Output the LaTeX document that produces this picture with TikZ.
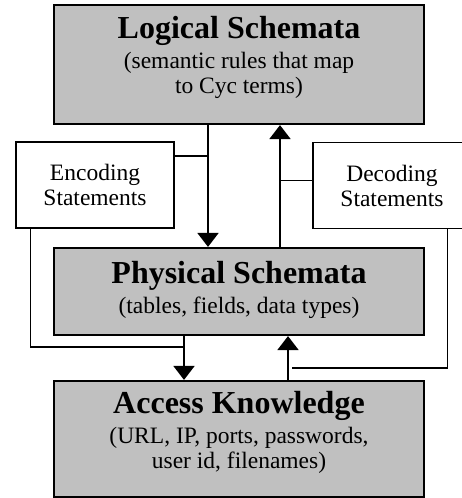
\documentclass[tikz,border=0pt]{standalone}
\usepackage{fontspec}
\setmainfont{Liberation Serif}
\usetikzlibrary{arrows.meta,calc}
\definecolor{boxgray}{RGB}{192,192,192}
\newcommand\schemtitle{\fontsize{32}{36}\selectfont\bfseries}
\newcommand\schemsub{\fontsize{23.5}{25}\selectfont}
\tikzset{
  schema/.style={draw, line width=2.2pt, fill=boxgray, minimum width=370pt, inner sep=0pt},
  schematext/.style={align=center, font=\schemsub, inner sep=0pt},
  note/.style={draw, line width=1.3pt, fill=white, minimum width=158pt, minimum height=86pt, align=center, font=\schemsub},
  flow/.style={line width=2pt, -{Triangle[width=21pt,length=14pt]}},
  link/.style={line width=1.3pt}
}
\begin{document}
\begin{tikzpicture}[x=1pt,y=-1pt]
\useasboundingbox (0,0) rectangle (461,498);
% the three layers
\node[schema, minimum height=119pt] (logical) at (239,64.5) {};
\node[schematext] (logical text) at ([yshift=7pt]logical.center)
  {{\schemtitle Logical Schemata}\\[5pt] (semantic rules that map\\ to Cyc terms)};
\node[schema, minimum height=87pt] (physical) at (239,291.5) {};
\node[schematext] (physical text) at ([yshift=2pt]physical.center)
  {{\schemtitle Physical Schemata}\\[5pt] (tables, fields, data types)};
\node[schema, minimum height=116pt] (access) at (239,439) {};
\node[schematext] (access text) at ([yshift=7pt]access.center)
  {{\schemtitle Access Knowledge}\\[5pt] (URL, IP, ports, passwords,\\ user id, filenames)};
% statements
\node[note] (enc) at (95,185) {Encoding\\ Statements};
\node[note] (dec) at (392,185.5) {Decoding\\ Statements};
% arrows between layers
\draw[flow] ([xshift=-31pt]logical.south) -- ([xshift=-31pt]physical.north);
\draw[flow] ([xshift=41pt]physical.north) -- ([xshift=41pt]logical.south);
\draw[flow] ([xshift=-55pt]physical.south) -- ([xshift=-55pt]access.north);
\draw[flow] ([xshift=49pt]access.north) -- ([xshift=49pt]physical.south);
% statement links
\draw[link] ([yshift=29pt]enc.east) -- ++(34,0);
\draw[link] ([yshift=5pt]dec.west) -- ++(-33,0);
\coordinate (encdrop) at ([xshift=15pt]enc.south west);
\draw[link] (encdrop) |- ($(physical.south)+(-55,11)$);
\coordinate (decdrop) at ([xshift=-24pt]dec.south east);
\draw[link] (decdrop) |- ($(access.north)+(53,-12)$);
\end{tikzpicture}
\end{document}
